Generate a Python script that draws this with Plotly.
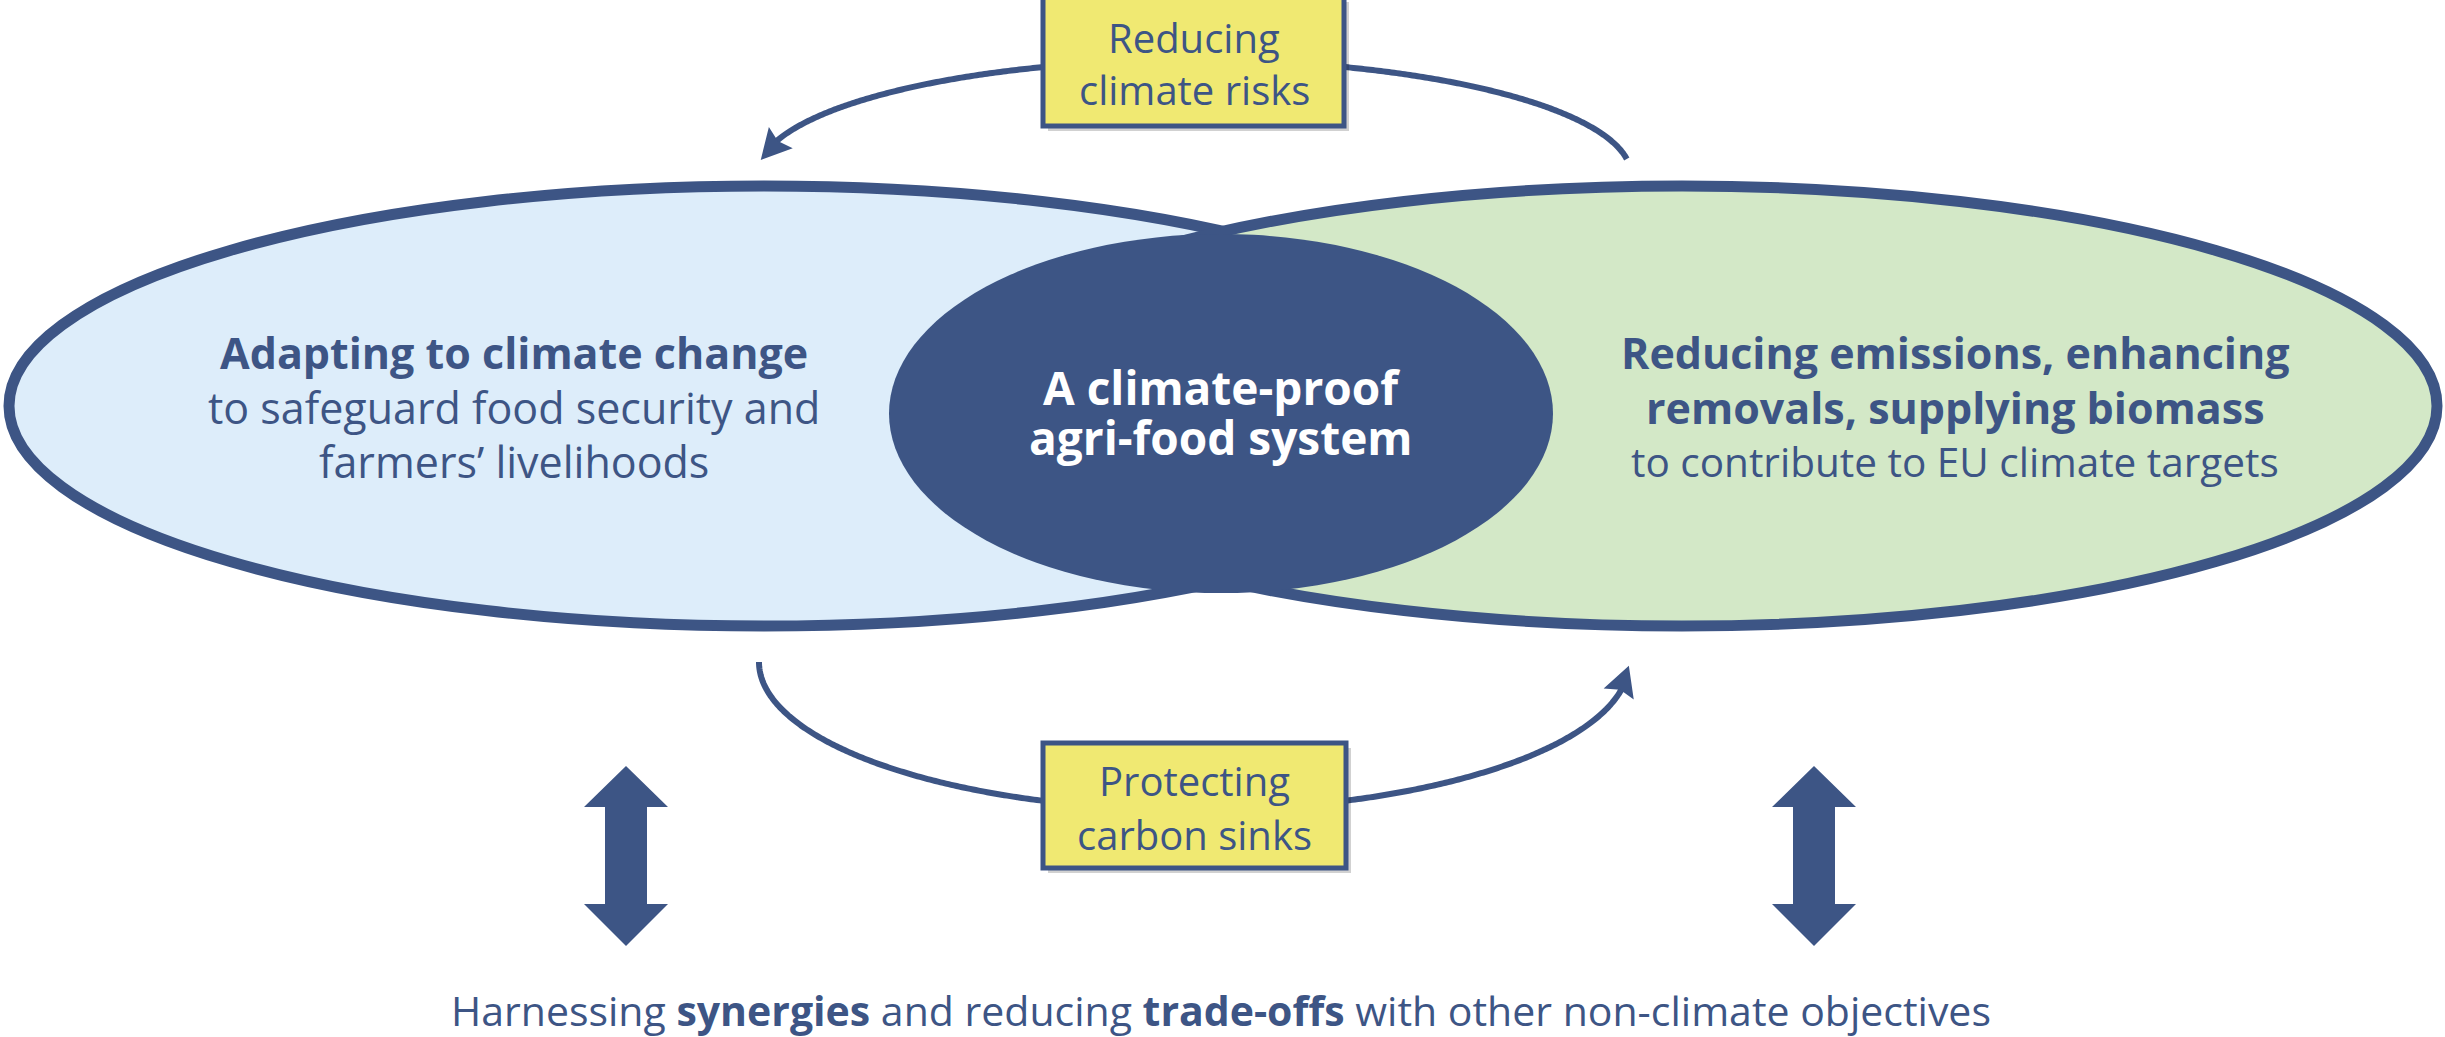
import numpy as np
import plotly.graph_objects as go

# ---------------- data (texts) ----------------
top_box_lines = ["Reducing", "climate risks"]
bottom_box_lines = ["Protecting", "carbon sinks"]
left_lines = ["<b>Adapting to climate change</b>", "to safeguard food security and", "farmers’ livelihoods"]
right_lines = ["<b>Reducing emissions, enhancing</b>", "<b>removals, supplying biomass</b>", "to contribute to EU climate targets"]
center_lines = ["<b>A climate-proof</b>", "<b>agri-food system</b>"]
footer_text = "Harnessing <b>synergies</b> and reducing <b>trade-offs</b> with other non-climate objectives"

# ---------------- styles ----------------
NAVY = "#3D5585"
LBLUE = "#DDEDFA"
LGREEN = "#D3E8C7"
YELLOW = "#F0E972"
FONT = "Open Sans"
W, H = 2445, 1037

fig = go.Figure()
shapes = []
annotations = []

# big ellipses
shapes.append(dict(type="circle", xref="x", yref="y", x0=9, x1=1519, y0=186, y1=626,
                   fillcolor=LBLUE, line=dict(color=NAVY, width=11), layer="below"))
shapes.append(dict(type="circle", xref="x", yref="y", x0=927, x1=2437, y0=186, y1=626,
                   fillcolor=LGREEN, line=dict(color=NAVY, width=11), layer="below"))
shapes.append(dict(type="circle", xref="x", yref="y", x0=889, x1=1553, y0=234, y1=593,
                   fillcolor=NAVY, line=dict(width=0), layer="below"))


def arrowhead(tip, base, half_w=16, notch=0.15):
    tip = np.array(tip, float)
    base = np.array(base, float)
    d = tip - base
    L = np.linalg.norm(d)
    u = d / L
    n = np.array([-u[1], u[0]])
    b1 = base + n * half_w
    b2 = base - n * half_w
    nm = base + u * L * notch
    return (f"M{tip[0]},{tip[1]} L{b1[0]},{b1[1]} L{nm[0]},{nm[1]} "
            f"L{b2[0]},{b2[1]} Z")


def arc_line(xs, ys):
    fig.add_trace(go.Scatter(x=xs, y=ys, mode="lines",
                             line=dict(color=NAVY, width=6, simplify=False),
                             hoverinfo="skip", showlegend=False))


# top arc (ellipse, upper half)
cx, cy, a, b = 1194, 175, 437, 115
t = np.radians(np.linspace(8, 164, 400))
arc_line(cx + a * np.cos(t), cy - b * np.sin(t))
tb = np.radians(161)
tt = np.radians(172.5)
shapes.append(dict(type="path", xref="x", yref="y",
                   path=arrowhead((cx + a * np.cos(tt), cy - b * np.sin(tt)),
                                  (cx + a * np.cos(tb), cy - b * np.sin(tb))),
                   fillcolor=NAVY, line=dict(width=0)))

# bottom arc (ellipse, lower half)
cx2, cy2, a2, b2 = 1194, 662, 435, 148
t = np.radians(np.linspace(180, 10.5, 400))
arc_line(cx2 + a2 * np.cos(t), cy2 + b2 * np.sin(t))
tb = np.radians(12.5)
tt = np.radians(1.5)
shapes.append(dict(type="path", xref="x", yref="y",
                   path=arrowhead((cx2 + a2 * np.cos(tt), cy2 + b2 * np.sin(tt)),
                                  (cx2 + a2 * np.cos(tb), cy2 + b2 * np.sin(tb))),
                   fillcolor=NAVY, line=dict(width=0)))

# yellow boxes with shadow
for (x0, x1, y0, y1) in [(1043, 1344, -3, 126), (1043, 1346, 743, 868)]:
    shapes.append(dict(type="rect", xref="x", yref="y", x0=x0 + 5, x1=x1 + 5, y0=y0 + 5, y1=y1 + 5,
                       fillcolor="rgba(0,0,0,0.18)", line=dict(width=0)))
    shapes.append(dict(type="rect", xref="x", yref="y", x0=x0, x1=x1, y0=y0, y1=y1,
                       fillcolor=YELLOW, line=dict(color=NAVY, width=5)))

# double arrows
for xc in (626, 1814):
    hw, sw = 42, 21
    ytop, yhb, ybh, ybot = 766, 807, 904, 946
    p = (f"M{xc},{ytop} L{xc + hw},{yhb} L{xc + sw},{yhb} L{xc + sw},{ybh} L{xc + hw},{ybh} "
         f"L{xc},{ybot} L{xc - hw},{ybh} L{xc - sw},{ybh} L{xc - sw},{yhb} L{xc - hw},{yhb} Z")
    shapes.append(dict(type="path", xref="x", yref="y", path=p, fillcolor=NAVY, line=dict(width=0)))


def add_text(txt, x, y, size, color=NAVY):
    annotations.append(dict(text=txt, x=x, y=y, xref="x", yref="y", showarrow=False,
                            xanchor="center", yanchor="middle",
                            font=dict(family=FONT, size=size, color=color)))


for txt, y in zip(top_box_lines, [37, 89]):
    add_text(txt, 1194, y, 40)
for txt, y in zip(bottom_box_lines, [780, 834]):
    add_text(txt, 1194, y, 40)
for txt, y in zip(left_lines, [352, 407, 461]):
    add_text(txt, 514, y, 43)
for txt, y in zip(right_lines, [352, 407, 461]):
    add_text(txt, 1955, y, 43 if "<b>" in txt else 40.5)
for txt, y in zip(center_lines, [387, 437]):
    add_text(txt, 1221, y, 46, "white")
add_text(footer_text, 1221, 1010, 41)

fig.update_layout(
    width=W, height=H, margin=dict(l=0, r=0, t=0, b=0),
    paper_bgcolor="white", plot_bgcolor="white",
    xaxis=dict(range=[0, W], visible=False, fixedrange=True),
    yaxis=dict(range=[H, 0], visible=False, fixedrange=True),
    shapes=shapes, annotations=annotations, showlegend=False,
)
fig.write_html("out.html", config={"displayModeBar": False},
               post_script="document.body.style.margin='0';document.body.style.overflow='hidden';")
